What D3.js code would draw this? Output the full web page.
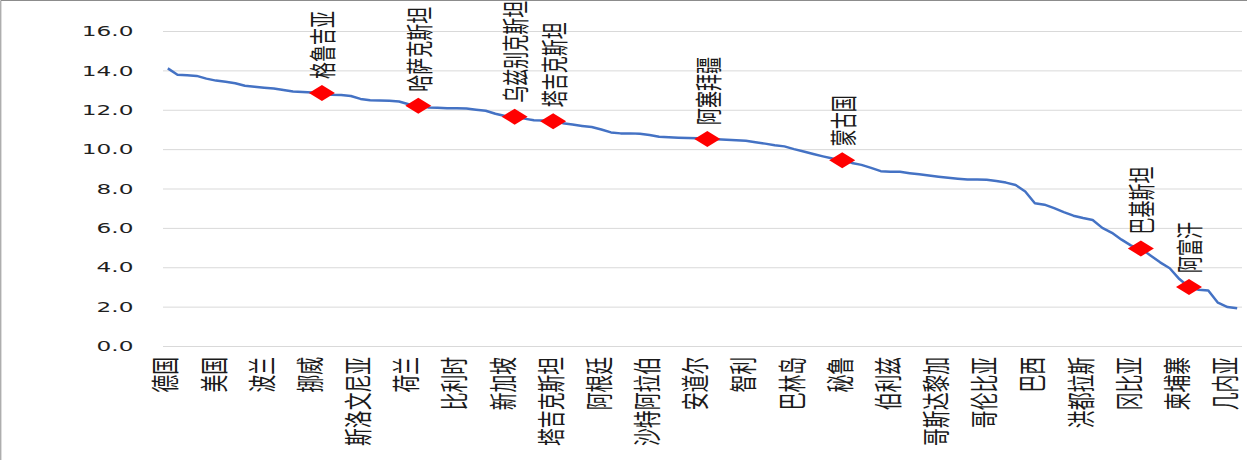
<!DOCTYPE html>
<html>
<head>
<meta charset="utf-8">
<script src="https://cdn.jsdelivr.net/npm/d3@7"></script>
<style>
  body { margin: 0; background: #fff; }
  svg { display: block; }
</style>
</head>
<body>
<svg id="chart"></svg>
<script>
// one value per country, sorted high to low
const values = [
  14.1, 13.78, 13.75, 13.72, 13.58, 13.48, 13.42, 13.35, 13.22, 13.17,
  13.12, 13.08, 13.0, 12.93, 12.9, 12.88, 12.85, 12.76, 12.75, 12.7,
  12.55, 12.48, 12.47, 12.46, 12.42, 12.28, 12.2, 12.12, 12.1, 12.08,
  12.07, 12.06, 12.0, 11.95, 11.8, 11.68, 11.65, 11.55, 11.47, 11.46,
  11.42, 11.32, 11.25, 11.18, 11.12, 11.0, 10.85, 10.8, 10.8, 10.78,
  10.72, 10.63, 10.6, 10.58, 10.57, 10.55, 10.52, 10.5, 10.48, 10.45,
  10.42, 10.35, 10.28, 10.2, 10.14, 10.0, 9.88, 9.75, 9.63, 9.52,
  9.44, 9.3, 9.2, 9.05, 8.88, 8.85, 8.85, 8.78, 8.72, 8.66,
  8.6, 8.55, 8.5, 8.46, 8.46, 8.44, 8.38, 8.3, 8.18, 7.85,
  7.25, 7.18, 7.0, 6.8, 6.62, 6.5, 6.4, 6.0, 5.75, 5.4,
  5.1, 4.95, 4.6, 4.25, 3.95, 3.4, 3.0, 2.86, 2.82, 2.2,
  1.98, 1.92
]

// only every 5th category is labelled on the axis
const tickEvery = 5
const tickLabels = ["德国", "美国", "波兰", "挪威", "斯洛文尼亚", "荷兰", "比利时", "新加坡",
  "塔吉克斯坦", "阿根廷", "沙特阿拉伯", "安道尔", "智利", "巴林岛", "秘鲁", "伯利兹",
  "哥斯达黎加", "哥伦比亚", "巴西", "洪都拉斯", "冈比亚", "柬埔寨", "几内亚"]

// highlighted countries and where they sit in the series
const markNames = ["格鲁吉亚", "哈萨克斯坦", "乌兹别克斯坦", "塔吉克斯坦", "阿塞拜疆", "蒙古国", "巴基斯坦", "阿富汗"]
const markIndex = [16, 26, 36, 40, 56, 70, 101, 106]

const yTicks = [0, 2, 4, 6, 8, 10, 12, 14, 16]

const W = 1247, H = 460
const sx = 1.6   // the picture is stretched sideways, so draw narrow and let the viewBox stretch it
const vw = W / sx
const plotLeft = 163 / sx, plotRight = 1242 / sx
const plotTop = 31, plotBottom = 346
const cjk = "'Noto Sans CJK SC', 'Noto Sans', sans-serif"

const svg = d3.select("#chart")
  .attr("width", W)
  .attr("height", H)
  .attr("viewBox", `0 0 ${vw} ${H}`)
  .attr("preserveAspectRatio", "none")

const x = d3.scaleBand().domain(d3.range(values.length)).range([plotLeft, plotRight])
const y = d3.scaleLinear().domain([0, 16]).range([plotBottom, plotTop])
const cx = i => x(i) + x.bandwidth() / 2

// frame (only top and left edges are in the picture)
svg.append("path")
  .attr("d", `M0.5,${H}V0.5H${vw}`)
  .attr("fill", "none")
  .attr("stroke", "#8c8c8c")
  .attr("vector-effect", "non-scaling-stroke")

// y axis + gridlines
const yAxis = svg.append("g")
  .attr("transform", `translate(${plotLeft},0)`)
  .call(d3.axisLeft(y)
    .tickValues(yTicks)
    .tickSize(-(plotRight - plotLeft))
    .tickPadding(18.5)
    .tickFormat(d3.format(".1f")))
yAxis.select(".domain").remove()
yAxis.selectAll(".tick line")
  .attr("stroke", "#d9d9d9")
  .attr("vector-effect", "non-scaling-stroke")
yAxis.selectAll(".tick text")
  .attr("fill", "#1f1f1f")
  .style("font", "14.5px 'DejaVu Sans', sans-serif")

// x axis labels, vertical
svg.append("g")
  .selectAll("text")
  .data(tickLabels)
  .enter().append("text")
  .attr("transform", (d, k) => `translate(${cx(k * tickEvery) - 2.5},357) rotate(-90)`)
  .attr("text-anchor", "end")
  .attr("dominant-baseline", "central")
  .attr("fill", "#1a1a1a")
  .style("font", `17.8px ${cjk}`)
  .text(d => d)

// the series line
const line = d3.line()
  .x((d, i) => cx(i))
  .y(d => y(d))

svg.append("path")
  .datum(values)
  .attr("fill", "none")
  .attr("stroke", "#4472c4")
  .attr("stroke-width", 2.5)
  .attr("stroke-linejoin", "round")
  .attr("vector-effect", "non-scaling-stroke")
  .attr("d", line)

// highlighted points
const marks = markNames.map((name, k) => ({name, i: markIndex[k], v: values[markIndex[k]]}))
const dw = 13 / sx, dh = 8

svg.append("g")
  .selectAll("path")
  .data(marks)
  .enter().append("path")
  .attr("fill", "#ff0000")
  .attr("d", d => {
    const px = cx(d.i), py = y(d.v)
    return `M${px},${py - dh}L${px + dw},${py}L${px},${py + dh}L${px - dw},${py}Z`
  })

svg.append("g")
  .selectAll("text")
  .data(marks)
  .enter().append("text")
  .attr("transform", d => `translate(${cx(d.i)},${y(d.v) - 14}) rotate(-90)`)
  .attr("text-anchor", "start")
  .attr("dominant-baseline", "central")
  .attr("fill", "#1a1a1a")
  .style("font", `17px ${cjk}`)
  .text(d => d.name)
</script>
</body>
</html>
